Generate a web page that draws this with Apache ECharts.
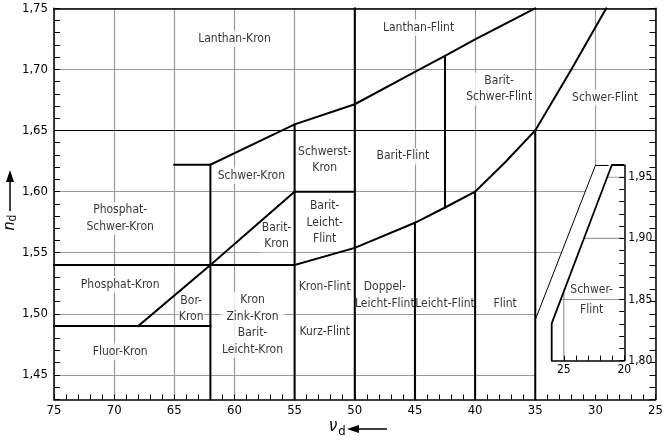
<!DOCTYPE html>
<html><head><meta charset="utf-8">
<script src="https://cdn.jsdelivr.net/npm/echarts@6/dist/echarts.min.js"></script>
<style>html,body{margin:0;padding:0;background:#fff}#c{width:666px;height:440px}</style>
</head><body><div id="c"></div>
<script>
const FONT = '"DejaVu Sans Condensed","Liberation Sans",sans-serif';

// ---- main diagram data (x = Abbe number vd, y = refractive index nd) ----
const vdRange = [25, 75];
const ndRange = [1.43, 1.75];
const vdLabels = [75, 70, 65, 60, 55, 50, 45, 40, 35, 30, 25];
const ndLabels = ['1,45', '1,50', '1,55', '1,60', '1,65', '1,70', '1,75'];

// glass-type region names and their positions (vd, nd)
const regionNames = ['Lanthan-Kron', 'Lanthan-Flint', 'Barit-\nSchwer-Flint', 'Schwer-Flint',
  'Schwerst-\nKron', 'Barit-Flint', 'Schwer-Kron', 'Phosphat-\nSchwer-Kron', 'Phosphat-Kron',
  'Bor-\nKron', 'Fluor-Kron', 'Barit-\nKron', 'Barit-\nLeicht-\nFlint',
  'Kron\nZink-Kron\nBarit-\nLeicht-Kron', 'Kron-Flint', 'Kurz-Flint',
  'Doppel-\nLeicht-Flint', 'Leicht-Flint', 'Flint'];
const regionVd = [60, 44.7, 38, 29.2, 52.5, 46, 58.6, 69.5, 69.5, 63.6, 69.5, 56.5, 52.5, 58.5, 52.5, 52.5, 47.5, 42.5, 37.5];
const regionNd = [1.725, 1.734, 1.684, 1.677, 1.626, 1.629, 1.613, 1.578, 1.524, 1.504, 1.469, 1.5636, 1.5745, 1.491, 1.522, 1.485, 1.515, 1.508, 1.508];

// boundary polylines [vd, nd]
const upperBoundary = [[65, 1.622], [62, 1.622], [55, 1.655], [50, 1.6715], [45, 1.698], [42.5, 1.711], [40, 1.7245], [35, 1.75]];
const lowerBoundary = [[75, 1.54], [55, 1.54], [50, 1.554], [45, 1.5745], [42.5, 1.587], [40, 1.60], [37.5, 1.624], [35, 1.65], [32, 1.70], [29.1, 1.75]];
const kronDiagonal = [[68, 1.49], [62, 1.54], [55, 1.60]];
const fluorLine = [[75, 1.49], [62, 1.49]];
const baritLeichtTop = [[55, 1.60], [50, 1.60]];
const verticals = [
  [[62, 1.43], [62, 1.622]],
  [[55, 1.43], [55, 1.655]],
  [[50, 1.43], [50, 1.75]],
  [[45, 1.43], [45, 1.5745]],
  [[42.5, 1.587], [42.5, 1.711]],
  [[40, 1.43], [40, 1.60]],
  [[35, 1.43], [35, 1.65]]
];
const line165 = [[75, 1.65], [25, 1.65]];
const bandThin = [[35, 1.495], [30, 1.6214], [28.9, 1.6214]];
const maskPoly = [[35, 1.43], [35, 1.495], [30, 1.6214], [25, 1.6214], [25, 1.43]];

// ---- inset (high-index Schwer-Flint) ----
const insetVdRange = [20, 26];
const insetNdRange = [1.80, 1.96];
const insetBoundary = [[26, 1.80], [26, 1.8304], [21.03, 1.96], [20, 1.96]];
const insetGridNd = [1.85, 1.90, 1.95];
const insetGridVd = [25];
const insetLabel = {name: 'Schwer-\nFlint', vd: 22.7, nd: 1.85};

// inset gridlines start at the inset's slanted boundary
const dA = insetBoundary[1], dB = insetBoundary[2];
const vdOnDiag = nd => dA[0] + (nd - dA[1]) / (dB[1] - dA[1]) * (dB[0] - dA[0]);
const ndOnDiag = vd => dA[1] + (vd - dA[0]) / (dB[0] - dA[0]) * (dB[1] - dA[1]);
const insetGridLines = [
  ...insetGridNd.map(nd => [[vdOnDiag(nd), nd], [insetVdRange[0], nd]]),
  ...insetGridVd.map(vd => [[vd, ndOnDiag(vd)], [vd, insetNdRange[0]]])
];

const fmtNd = v => { const k = Math.round(v * 100); return k % 5 === 0 ? (k / 100).toFixed(2).replace('.', ',') : ''; };
const fmtVd = v => (Math.round(v) % 5 === 0 ? String(Math.round(v)) : '');
const GRID = '#9a9a9a';

function poly(pts, extra) {
  return Object.assign({
    type: 'line', data: pts, symbol: 'none', silent: true, animation: false,
    xAxisIndex: 0, yAxisIndex: 0, z: 6,
    lineStyle: {color: '#000', width: 2, cap: 'square', join: 'miter'}
  }, extra || {});
}
function mask(pts, xi, yi, z) {
  return {
    type: 'custom', xAxisIndex: xi, yAxisIndex: yi, z: z, silent: true, animation: false,
    data: [[pts[0][0], pts[0][1]]], clip: false,
    renderItem: (p, api) => ({type: 'polygon', shape: {points: pts.map(q => api.coord(q))}, style: {fill: '#fff'}})
  };
}

const hideAll = {axisLine: {show: false}, axisTick: {show: false}, axisLabel: {show: false}};
const chart = echarts.init(document.getElementById('c'), null, {renderer: 'canvas'});

const series = [
  mask(maskPoly, 0, 0, 1),
  ...insetGridLines.map(g => poly(g, {xAxisIndex: 3, yAxisIndex: 3, z: 2, lineStyle: {color: GRID, width: 1.2}})),
  {
    type: 'scatter', xAxisIndex: 0, yAxisIndex: 0, z: 4, symbolSize: 0, silent: true, animation: false,
    data: regionNames.map((n, i) => ({name: n, value: [regionVd[i], regionNd[i]]})),
    label: {show: true, position: 'inside', formatter: '{b}', color: '#000', fontFamily: FONT, fontSize: 12,
      lineHeight: 16.5, align: 'center', verticalAlign: 'middle', backgroundColor: '#fff', padding: [0, 1]}
  },
  poly(line165, {lineStyle: {color: '#000', width: 1}, z: 5}),
  poly(upperBoundary), poly(lowerBoundary), poly(kronDiagonal), poly(fluorLine), poly(baritLeichtTop),
  ...verticals.map(v => poly(v)),
  poly(bandThin, {lineStyle: {color: '#000', width: 1}}),
  poly(insetBoundary, {xAxisIndex: 3, yAxisIndex: 3, z: 8, lineStyle: {color: '#000', width: 1.8}}),
  {
    type: 'scatter', xAxisIndex: 3, yAxisIndex: 3, z: 8, symbolSize: 0, silent: true, animation: false,
    data: [{name: insetLabel.name, value: [insetLabel.vd, insetLabel.nd]}],
    label: {show: true, position: 'inside', formatter: '{b}', color: '#000', fontFamily: FONT, fontSize: 12,
      lineHeight: 20, align: 'center', verticalAlign: 'middle'}
  }
];

const option = {
  backgroundColor: '#fff',
  animation: false,
  grid: [
    {left: 54, top: 8.3, width: 605.9, height: 391.1, containLabel: false},
    {left: 551.7, top: 165, width: 72.6, height: 195.6, containLabel: false}
  ],
  xAxis: [
    Object.assign({type: 'value', gridIndex: 0, min: vdRange[0], max: vdRange[1], inverse: true, interval: 5, z: 0,
      splitLine: {show: true, lineStyle: {color: GRID, width: 1.2}}}, hideAll),
    {type: 'value', gridIndex: 0, position: 'bottom', min: vdRange[0], max: vdRange[1], inverse: true, interval: 1, z: 10,
      axisLine: {show: true, onZero: false, lineStyle: {color: '#000', width: 1.5}},
      axisTick: {show: true, inside: true, length: 5, lineStyle: {color: '#000', width: 1}},
      axisLabel: {show: true, formatter: fmtVd, color: '#000', fontFamily: FONT, fontSize: 13, margin: 5,
        showMinLabel: true, showMaxLabel: true},
      splitLine: {show: false}},
    {type: 'value', gridIndex: 0, position: 'top', min: vdRange[0], max: vdRange[1], inverse: true, z: 10,
      axisLine: {show: true, onZero: false, lineStyle: {color: '#000', width: 1.5}},
      axisTick: {show: false}, axisLabel: {show: false}, splitLine: {show: false}},
    {type: 'value', gridIndex: 1, position: 'bottom', min: insetVdRange[0], max: insetVdRange[1], inverse: true, interval: 1, z: 6,
      axisLine: {show: true, onZero: false, lineStyle: {color: '#000', width: 1.5}},
      axisTick: {show: true, inside: true, length: 5, lineStyle: {color: '#000', width: 1}},
      axisLabel: {show: true, formatter: fmtVd, color: '#000', fontFamily: FONT, fontSize: 12, margin: 3},
      splitLine: {show: false}}
  ],
  yAxis: [
    Object.assign({type: 'value', gridIndex: 0, min: ndRange[0], max: ndRange[1], interval: 0.01, z: 0,
      splitLine: {show: true, lineStyle: {color: ['transparent', 'transparent', GRID, 'transparent', 'transparent'], width: 1.2}}}, hideAll),
    {type: 'value', gridIndex: 0, position: 'left', min: ndRange[0], max: ndRange[1], interval: 0.01, z: 10,
      axisLine: {show: true, onZero: false, lineStyle: {color: '#000', width: 1.5}},
      axisTick: {show: true, inside: true, length: 6, lineStyle: {color: '#000', width: 1}},
      axisLabel: {show: true, formatter: fmtNd, color: '#000', fontFamily: FONT, fontSize: 13, margin: 6},
      splitLine: {show: false}},
    {type: 'value', gridIndex: 0, position: 'right', min: ndRange[0], max: ndRange[1], interval: 0.01, z: 10,
      axisLine: {show: true, onZero: false, lineStyle: {color: '#000', width: 1.5}},
      axisTick: {show: true, inside: true, length: 6, lineStyle: {color: '#000', width: 1}},
      axisLabel: {show: false}, splitLine: {show: false}},
    {type: 'value', gridIndex: 1, position: 'right', min: insetNdRange[0], max: insetNdRange[1], interval: 0.01, z: 6,
      axisLine: {show: true, onZero: false, lineStyle: {color: '#000', width: 1.5}},
      axisTick: {show: true, inside: true, length: 5, lineStyle: {color: '#000', width: 1}},
      axisLabel: {show: true, formatter: fmtNd, color: '#000', fontFamily: FONT, fontSize: 12, margin: 4},
      splitLine: {show: false}}
  ],
  graphic: [
    // y axis name  n_d with arrow
    {type: 'group', x: 10, y: 226, rotation: Math.PI / 2, children: [
      {type: 'text', x: 0, y: 0, style: {text: 'n', font: 'italic 16px ' + FONT, fill: '#000', align: 'center', verticalAlign: 'middle'}},
      {type: 'text', x: 8, y: 3, style: {text: 'd', font: '12px ' + FONT, fill: '#000', align: 'center', verticalAlign: 'middle'}},
      {type: 'line', shape: {x1: 15, y1: 0, x2: 46, y2: 0}, style: {stroke: '#000', lineWidth: 1.5}},
      {type: 'polygon', shape: {points: [[44, -4], [56, 0], [44, 4]]}, style: {fill: '#000'}}
    ]},
    // x axis name  v_d with arrow
    {type: 'group', x: 0, y: 0, children: [
      {type: 'text', x: 333, y: 435, style: {text: 'ν', font: 'italic 17px ' + FONT, fill: '#000', align: 'center', verticalAlign: 'bottom'}},
      {type: 'text', x: 342, y: 438, style: {text: 'd', font: '13px ' + FONT, fill: '#000', align: 'center', verticalAlign: 'bottom'}},
      {type: 'line', shape: {x1: 357, y1: 429, x2: 387, y2: 429}, style: {stroke: '#000', lineWidth: 1.5}},
      {type: 'polygon', shape: {points: [[347, 429], [359, 425], [359, 433]]}, style: {fill: '#000'}}
    ]},
    // inset axis name
    {type: 'group', x: 0, y: 0, children: [
      {type: 'text', x: 568, y: 389, style: {text: 'ν', font: 'italic 16px ' + FONT, fill: '#000', align: 'center', verticalAlign: 'bottom'}},
      {type: 'text', x: 575, y: 392, style: {text: 'd', font: '12px ' + FONT, fill: '#000', align: 'center', verticalAlign: 'bottom'}},
      {type: 'line', shape: {x1: 590, y1: 383.5, x2: 621.7, y2: 383.5}, style: {stroke: '#000', lineWidth: 1.5}},
      {type: 'polygon', shape: {points: [[580, 383.5], [591, 379.5], [591, 387.5]]}, style: {fill: '#000'}}
    ]}
  ],
  series: series
};
chart.setOption(option);
</script></body></html>
